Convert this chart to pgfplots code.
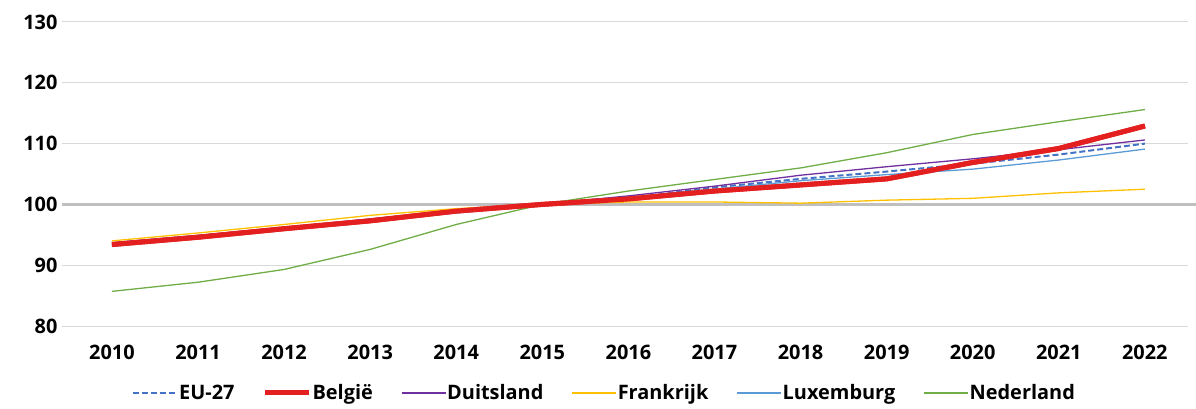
\documentclass[border=0pt]{standalone}
\usepackage{fontspec}
\setmainfont{Open Sans}[BoldFont={* Bold}]
\usepackage{pgfplots}
\pgfplotsset{compat=1.18}
\definecolor{eu}{HTML}{4472C4}
\definecolor{be}{HTML}{E41F1F}
\definecolor{de}{HTML}{7030A0}
\definecolor{fr}{HTML}{FFC000}
\definecolor{lu}{HTML}{5B9BD5}
\definecolor{nl}{HTML}{70AD47}
\definecolor{gridc}{HTML}{D9D9D9}
\definecolor{hund}{HTML}{BFBFBF}
\begin{document}
\begin{tikzpicture}
\begin{axis}[
  scale only axis,
  width=1126bp, height=304bp,
  xmin=2009.42, xmax=2022.5,
  ymin=80, ymax=130,
  ytick={80,90,...,130},
  xtick={2010,...,2022},
  /pgf/number format/1000 sep={},
  /pgf/number format/assume math mode=true,
  axis line style={draw=none},
  major tick length=0pt,
  ymajorgrids,
  grid style={gridc, line width=1bp},
  tick label style={font=\fontsize{20}{24}\selectfont\bfseries},
  yticklabel style={xshift=-1bp},
  xticklabel style={yshift=-16bp},
  clip=false,
  legend style={draw=none, at={(0.5,-0.22)}, anchor=center, xshift=-21bp,
    font=\fontsize{20}{24}\selectfont\bfseries, legend columns=6,
    nodes={inner xsep=1bp},
    /tikz/every even column/.append style={column sep=27bp}},
  legend image code/.code={\draw[#1] (0bp,0bp) -- (44bp,0bp);},
]
\addplot[hund, line width=3bp, forget plot] coordinates {(2009.42,100) (2022.6,100)};
\addplot[eu, line width=2bp, dash pattern=on 6bp off 3bp] coordinates {
(2010,93.2)(2011,94.8)(2012,96.1)(2013,97.4)(2014,98.8)(2015,100)(2016,101.0)(2017,102.8)(2018,104.2)(2019,105.4)(2020,106.7)(2021,108.2)(2022,110.0)};
\addlegendentry{EU-27}
\addplot[be, line width=5bp] coordinates {
(2010,93.4)(2011,94.6)(2012,96.0)(2013,97.3)(2014,98.9)(2015,100)(2016,100.9)(2017,102.2)(2018,103.2)(2019,104.2)(2020,106.9)(2021,109.2)(2022,112.9)};
\addlegendentry{België}
\addplot[de, line width=1.3bp] coordinates {
(2010,93.7)(2011,94.9)(2012,96.2)(2013,97.6)(2014,99.0)(2015,100)(2016,101.4)(2017,103.0)(2018,104.8)(2019,106.2)(2020,107.5)(2021,109.0)(2022,110.6)};
\addlegendentry{Duitsland}
\addplot[fr, line width=1.3bp] coordinates {
(2010,94.0)(2011,95.3)(2012,96.7)(2013,98.2)(2014,99.3)(2015,100)(2016,100.4)(2017,100.4)(2018,100.2)(2019,100.7)(2020,101.0)(2021,101.9)(2022,102.5)};
\addlegendentry{Frankrijk}
\addplot[lu, line width=1.3bp] coordinates {
(2010,93.1)(2011,94.7)(2012,96.0)(2013,97.3)(2014,98.6)(2015,100)(2016,101.1)(2017,102.5)(2018,103.9)(2019,104.9)(2020,105.8)(2021,107.3)(2022,109.1)};
\addlegendentry{Luxemburg}
\addplot[nl, line width=1.3bp] coordinates {
(2010,85.7)(2011,87.2)(2012,89.3)(2013,92.6)(2014,96.7)(2015,100)(2016,102.2)(2017,104.1)(2018,106.0)(2019,108.5)(2020,111.5)(2021,113.6)(2022,115.6)};
\addlegendentry{Nederland}
\addplot[be, line width=5bp, forget plot] coordinates {
(2010,93.4)(2011,94.6)(2012,96.0)(2013,97.3)(2014,98.9)(2015,100)(2016,100.9)(2017,102.2)(2018,103.2)(2019,104.2)(2020,106.9)(2021,109.2)(2022,112.9)};
\end{axis}
\pgfresetboundingbox
\path[use as bounding box] (current axis.south west) ++(-62bp,-82bp) rectangle ([xshift=8bp,yshift=22bp]current axis.north east);
\end{tikzpicture}
\end{document}
